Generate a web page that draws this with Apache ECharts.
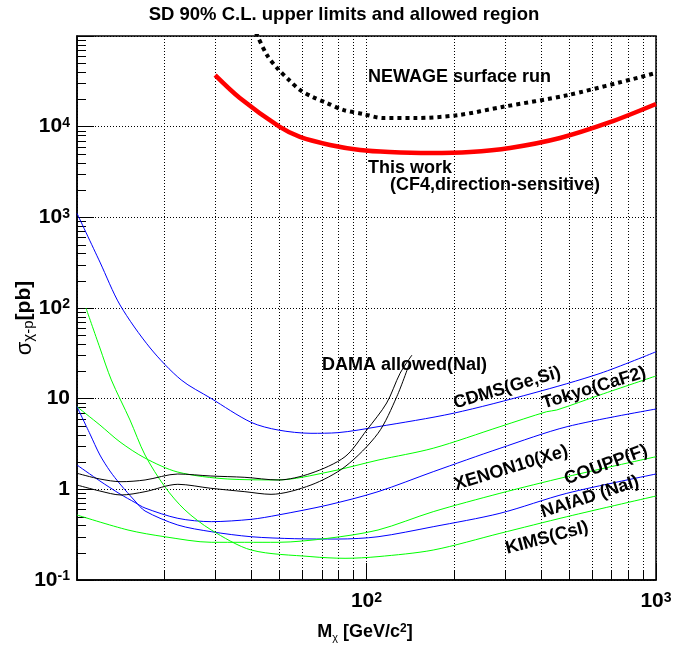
<!DOCTYPE html>
<html><head><meta charset="utf-8">
<script src="https://cdn.jsdelivr.net/npm/echarts@6/dist/echarts.min.js"></script>
<style>html,body{margin:0;padding:0;background:#fff}#c{width:687px;height:646px}</style>
</head><body><div id="c"></div>
<script>
// ---- data: [M (GeV/c^2), sigma (pb)] ----
const thisWork = [[30,37000],[36.5,20700],[50,10000],[58.9,7700],[74.8,6280],[95,5530],[120,5250],[166,5120],[228,5250],[313,5820],[466,7500],[693,11200],[1000,17800]];
const newage = [[41.5,109000],[45.3,61700],[49.1,44400],[54,32700],[58.9,25400],[65.3,21200],[73.1,18200],[83,15300],[97.3,13800],[114,12450],[147,12450],[207,13400],[294,16500],[496,22300],[1000,39100]];
const cdms = [[10,1107],[12,321],[14.08,108],[17.9,36.2],[22.9,16.1],[29,10.1],[39.9,5.49],[49.5,4.51],[64.3,4.15],[79.8,4.22],[109.6,4.91],[199,6.89],[376,11.5],[641,19],[1000,32.9]];
const tokyo = [[10,8.15],[12,5.12],[14.08,3.33],[17.18,2.21],[22.3,1.55],[33.2,1.30],[49.5,1.27],[73.6,1.55],[109.6,2.1],[170,2.84],[289,4.91],[419,7.18],[454,7.5],[641,11],[1000,17.8]];
const xenon = [[10,1.855],[12,1.236],[14.08,0.888],[15.86,0.716],[17.18,0.622],[22.3,0.479],[29.1,0.44],[40,0.467],[49.5,0.521],[73.6,0.672],[109.6,0.942],[170,1.565],[289,2.835],[493,4.91],[1000,7.69]];
const naiad = [[10,8.15],[11.09,4.07],[12,2.39],[13,1.59],[14.08,1.145],[15.86,0.744],[17.18,0.577],[22.3,0.404],[29.1,0.341],[40,0.300],[56.5,0.2855],[79.8,0.283],[109.6,0.300],[170,0.387],[289,0.544],[492,0.904],[1000,1.476]];
const coupp = [[10,0.521],[15,0.356],[20.1,0.300],[29.1,0.2605],[49.5,0.2605],[73.6,0.2884],[109.6,0.356],[170,0.567],[289,0.904],[492,1.378],[1000,2.29]];
const kims = [[10.74,100],[12,36.2],[13.14,16.1],[15.24,5.82],[17.18,2.39],[20.14,1.06],[23.6,0.592],[29.1,0.356],[40,0.214],[64.3,0.181],[84.3,0.1735],[109.6,0.181],[170,0.214],[289,0.327],[492,0.499],[1000,0.844]];
const damaUpper = [[10,1.503],[12,1.30],[14.19,1.214],[17.18,1.268],[22.3,1.476],[29,1.403],[38,1.357],[49.5,1.268],[64.3,1.503],[84.3,2.29],[100.2,4.51],[117.4,8.96],[130.6,19.05],[143.6,30.3]];
const damaLower = [[10,1.116],[12,0.958],[14.19,0.866],[17.18,0.942],[22.3,1.136],[29,1.027],[38,0.942],[46.8,0.881],[64.3,1.116],[84.3,1.777],[109.6,4.15],[127.2,10.5],[141.3,25.4]];

// ---- axes ----
const X_MIN = 10, X_MAX = 1000, Y_MIN = 0.1, Y_MAX = 100000;
const xMinorTicks = [20,30,40,50,60,70,80,90,200,300,400,500,600,700,800,900];
const yMinorMult = [2,3,4,5,6,7,8,9];
const yDecades = [0.1,1,10,100,1000,10000];
const xTickLabels = {'2':'{b|10}{s|2}','3':'{b|10}{s|3}'};
const yTickLabels = {'-1':'{b|10}{s|-1}','0':'{b|1}','1':'{b|10}','2':'{b|10}{s|2}','3':'{b|10}{s|3}','4':'{b|10}{s|4}'};

const yMinorTicks = [];
yDecades.forEach(d => yMinorMult.forEach(m => yMinorTicks.push(+(d*m).toPrecision(3))));

const FONT = '"Liberation Sans", Arial, Helvetica, sans-serif';
const labelRich = {
  b: {fontFamily: FONT, fontWeight: 'bold', fontSize: 21, color: '#000', verticalAlign: 'bottom', lineHeight: 21},
  s: {fontFamily: FONT, fontWeight: 'bold', fontSize: 14, color: '#000', verticalAlign: 'top', lineHeight: 14, padding: [0,0,10,0]}
};

const annotations = [
  {text: 'NEWAGE surface run', x: 368, y: 77, align: 'left', rot: 0},
  {text: 'This work', x: 368, y: 168, align: 'left', rot: 0},
  {text: '(CF4,direction-sensitive)', x: 390, y: 185, align: 'left', rot: 0},
  {text: 'DAMA allowed(NaI)', x: 322, y: 365, align: 'left', rot: 0},
  {text: 'CDMS(Ge,Si)', x: 507, y: 388, align: 'center', rot: 16.5},
  {text: 'Tokyo(CaF2)', x: 594, y: 388, align: 'center', rot: 17},
  {text: 'XENON10(Xe)', x: 511, y: 468, align: 'center', rot: 17},
  {text: 'COUPP(F)', x: 606, y: 465, align: 'center', rot: 20},
  {text: 'NAIAD (NaI)', x: 590, y: 497, align: 'center', rot: 18},
  {text: 'KIMS(CsI)', x: 547, y: 538, align: 'center', rot: 15}
];

function lineSeries(name, data, color, width, dash) {
  return {
    name, type: 'line', data, showSymbol: false, smooth: 0.3, z: 3,
    lineStyle: {color, width, type: dash || 'solid', cap: 'butt'},
    emphasis: {disabled: true}, silent: true
  };
}

const gridDash = [1, 2];
const chart = echarts.init(document.getElementById('c'), null, {renderer: 'canvas'});
chart.setOption({
  animation: false,
  backgroundColor: '#fff',
  grid: {left: 77, right: 31, top: 36, bottom: 66, show: true, borderColor: '#000', borderWidth: 1.5, backgroundColor: 'transparent'},
  xAxis: {
    type: 'log', logBase: 10, min: X_MIN, max: X_MAX,
    axisLine: {show: true, lineStyle: {color: '#000', width: 1.5}},
    axisTick: {show: true, inside: true, length: 17, lineStyle: {color: '#000', width: 1}},
    splitLine: {show: true, lineStyle: {color: '#000', width: 1, type: gridDash}},
    axisLabel: {
      margin: 11, rich: labelRich, showMinLabel: true, showMaxLabel: true,
      formatter: v => xTickLabels[String(Math.round(Math.log10(v)))] || ''
    }
  },
  yAxis: {
    type: 'log', logBase: 10, min: Y_MIN, max: Y_MAX,
    axisLine: {show: true, lineStyle: {color: '#000', width: 1.5}},
    axisTick: {show: true, inside: true, length: 17, lineStyle: {color: '#000', width: 1}},
    splitLine: {show: true, lineStyle: {color: '#000', width: 1, type: gridDash}},
    axisLabel: {
      margin: 7, align: 'right', rich: labelRich, showMinLabel: true, showMaxLabel: true,
      formatter: v => yTickLabels[String(Math.round(Math.log10(v)))] || ''
    }
  },
  graphic: [
    {type: 'text', x: 344, y: 15, z: 100, style: {text: 'SD 90% C.L. upper limits and allowed region', font: 'bold 18.5px ' + FONT, fill: '#000', textAlign: 'center', textVerticalAlign: 'middle'}},
    {type: 'text', x: 365, y: 633, z: 100, style: {
      text: '{m|M}{s|χ}{m| [GeV/c}{p|2}{m|]}', textAlign: 'center', textVerticalAlign: 'middle',
      rich: {
        m: {fontFamily: FONT, fontWeight: 'bold', fontSize: 18, lineHeight: 20, verticalAlign: 'top', fill: '#000'},
        s: {fontFamily: FONT, fontSize: 11, lineHeight: 11, padding: [13,0,0,0], verticalAlign: 'bottom', fill: '#000'},
        p: {fontFamily: FONT, fontWeight: 'bold', fontSize: 12, lineHeight: 12, verticalAlign: 'top', fill: '#000'}
      }}},
    {type: 'text', x: 25, y: 318, rotation: Math.PI / 2, z: 100, style: {
      text: '{g|σ}{s|χ-p}{m|[pb]}', textAlign: 'center', textVerticalAlign: 'middle',
      rich: {
        g: {fontFamily: FONT, fontSize: 22, lineHeight: 22, verticalAlign: 'top', fill: '#000'},
        m: {fontFamily: FONT, fontWeight: 'bold', fontSize: 21, lineHeight: 22, verticalAlign: 'top', fill: '#000'},
        s: {fontFamily: FONT, fontSize: 15, lineHeight: 15, padding: [12,0,0,0], verticalAlign: 'bottom', fill: '#000'}
      }}}
  ].concat(annotations.map(a => ({
    type: 'text', x: a.x, y: a.y, rotation: a.rot * Math.PI / 180, z: 100,
    style: {text: a.text, font: 'bold 18px ' + FONT, fill: '#000', textAlign: a.align, textVerticalAlign: 'middle'}
  }))),
  series: [
    {
      type: 'custom', name: 'xminor', silent: true, z: 1, clip: false,
      data: xMinorTicks.map(v => [v, 1]),
      renderItem: (params, api) => {
        const pb = api.coord([api.value(0), Y_MIN]);
        const pt = api.coord([api.value(0), Y_MAX]);
        const x = Math.round(pb[0]) + 0.5;
        return {type: 'group', children: [
          {type: 'line', shape: {x1: x, y1: pb[1], x2: x, y2: pt[1]}, style: {stroke: '#000', lineWidth: 1, lineDash: gridDash}},
          {type: 'line', shape: {x1: x, y1: pb[1], x2: x, y2: pb[1] - 9}, style: {stroke: '#000', lineWidth: 1}}
        ]};
      }
    },
    {
      type: 'custom', name: 'yminor', silent: true, z: 1, clip: false,
      data: yMinorTicks.map(v => [100, v]),
      renderItem: (params, api) => {
        const p = api.coord([X_MIN, api.value(1)]);
        const y = Math.round(p[1]) + 0.5;
        return {type: 'line', shape: {x1: p[0], y1: y, x2: p[0] + 9, y2: y}, style: {stroke: '#000', lineWidth: 1}};
      }
    },
    lineSeries('This work', thisWork, '#ff0000', 4.5),
    lineSeries('NEWAGE surface run', newage, '#000000', 4, [4, 4]),
    lineSeries('CDMS(Ge,Si)', cdms, '#0000ff', 1),
    lineSeries('Tokyo(CaF2)', tokyo, '#00ff00', 1),
    lineSeries('XENON10(Xe)', xenon, '#0000ff', 1),
    lineSeries('NAIAD (NaI)', naiad, '#0000ff', 1),
    lineSeries('COUPP(F)', coupp, '#00ff00', 1),
    lineSeries('KIMS(CsI)', kims, '#00ff00', 1),
    lineSeries('DAMA upper', damaUpper, '#000000', 1),
    lineSeries('DAMA lower', damaLower, '#000000', 1)
  ]
});
</script></body></html>
